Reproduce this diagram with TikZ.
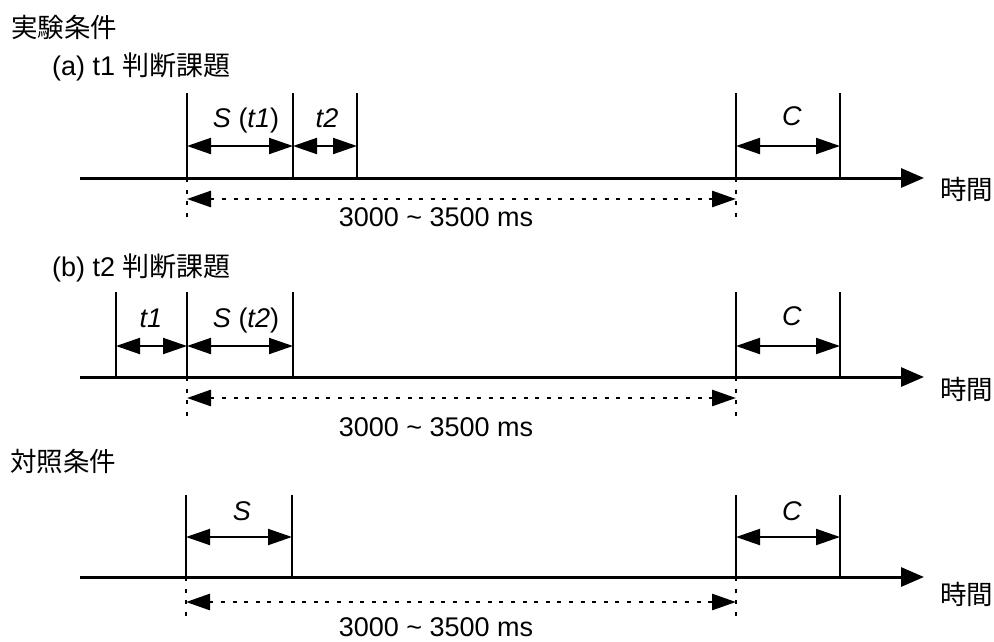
\documentclass[tikz,border=0pt]{standalone}
\usepackage{fontspec}
\setmainfont{Liberation Sans}
\newfontfamily\cjk{Noto Sans CJK JP}
\usetikzlibrary{arrows.meta}
\begin{document}
\begin{tikzpicture}[x=1pt,y=-1pt,
  axisline/.style={line width=3pt,-{Triangle[length=23pt,width=19pt]}},
  tickline/.style={line width=2.2pt},
  spanarrow/.style={line width=2pt,{Triangle[length=24pt,width=16pt]}-{Triangle[length=24pt,width=16pt]}},
  dotline/.style={line width=2.8pt,dash pattern=on 4pt off 7.6pt},
  dotspan/.style={dotline,{Triangle[length=24pt,width=16pt]}-{Triangle[length=24pt,width=16pt]}},
  txt/.style={inner sep=0pt,font=\fontsize{27}{30}\selectfont},
  cjktxt/.style={inner sep=0pt,font=\fontsize{26.5}{30}\selectfont\cjk},
]
\useasboundingbox (0,0) rectangle (994,641);

% ---------- titles ----------
\node[cjktxt,anchor=west] (title1) at (11,27) {実験条件};
\node[txt,anchor=west] (titleA) at (52,67) {(a) t1 {\cjk 判断課題}};
\node[txt,anchor=west] (titleB) at (52,268) {(b) t2 {\cjk 判断課題}};
\node[cjktxt,anchor=west] (title2) at (10,461) {対照条件};

% ---------- row (a) ----------
\coordinate (aL) at (80,178);
\coordinate (aR) at (924,178);
\foreach \n/\x in {1/187,2/293,3/357,4/736,5/840}{
  \coordinate (aT\n) at (\x,93);
  \coordinate (aB\n) at (\x,178);
  \coordinate (aM\n) at (\x,146);
}
\coordinate (aD1) at (187,199);
\coordinate (aD4) at (736,199);
\coordinate (aE1) at (187,217);
\coordinate (aE4) at (736,217);
\draw[axisline] (aL) -- (aR);
\foreach \n in {1,2,3,4,5}{\draw[tickline] (aT\n) -- (aB\n);}
\draw[spanarrow] (aM1) -- (aM2);
\draw[spanarrow] (aM2) -- (aM3);
\draw[spanarrow] (aM4) -- (aM5);
\draw[dotline] (aB1) -- (aE1);
\draw[dotline] (aB4) -- (aE4);
\draw[dotspan] (aD1) -- (aD4);
\node[txt,anchor=base] (aS) at (246,127) {\textit{S} (\textit{t1})};
\node[txt,anchor=base] (at2) at (327,127) {\textit{t2}};
\node[txt,anchor=base] (aC) at (792,125) {\textit{C}};
\node[txt,anchor=base] (aTime) at (436,226) {3000 \textasciitilde\ 3500 ms};
\node[cjktxt,anchor=west] (aJ) at (940,189) {時間};

% ---------- row (b) ----------
\coordinate (bL) at (80,377);
\coordinate (bR) at (924,377);
\foreach \n/\x in {0/116,1/187,2/293,4/736,5/840}{
  \coordinate (bT\n) at (\x,292);
  \coordinate (bB\n) at (\x,377);
  \coordinate (bM\n) at (\x,346);
}
\coordinate (bD1) at (187,398);
\coordinate (bD4) at (736,398);
\coordinate (bE1) at (187,417);
\coordinate (bE4) at (736,417);
\draw[axisline] (bL) -- (bR);
\foreach \n in {0,1,2,4,5}{\draw[tickline] (bT\n) -- (bB\n);}
\draw[spanarrow] (bM0) -- (bM1);
\draw[spanarrow] (bM1) -- (bM2);
\draw[spanarrow] (bM4) -- (bM5);
\draw[dotline] (bB1) -- (bE1);
\draw[dotline] (bB4) -- (bE4);
\draw[dotspan] (bD1) -- (bD4);
\node[txt,anchor=base] (bt1) at (151,327) {\textit{t1}};
\node[txt,anchor=base] (bS) at (246,327) {\textit{S} (\textit{t2})};
\node[txt,anchor=base] (bC) at (792,325) {\textit{C}};
\node[txt,anchor=base] (bTime) at (436,436) {3000 \textasciitilde\ 3500 ms};
\node[cjktxt,anchor=west] (bJ) at (940,389) {時間};

% ---------- row (c) ----------
\coordinate (cL) at (80,577);
\coordinate (cR) at (924,577);
\foreach \n/\x in {1/186,2/292,4/736,5/840}{
  \coordinate (cT\n) at (\x,495);
  \coordinate (cB\n) at (\x,577);
  \coordinate (cM\n) at (\x,537);
}
\coordinate (cD1) at (186,602);
\coordinate (cD4) at (736,602);
\coordinate (cE1) at (186,620);
\coordinate (cE4) at (736,620);
\draw[axisline] (cL) -- (cR);
\foreach \n in {1,2,4,5}{\draw[tickline] (cT\n) -- (cB\n);}
\draw[spanarrow] (cM1) -- (cM2);
\draw[spanarrow] (cM4) -- (cM5);
\draw[dotline] (cB1) -- (cE1);
\draw[dotline] (cB4) -- (cE4);
\draw[dotspan] (cD1) -- (cD4);
\node[txt,anchor=base] (cS) at (242,520) {\textit{S}};
\node[txt,anchor=base] (cC) at (792,520) {\textit{C}};
\node[txt,anchor=base] (cTime) at (436,636) {3000 \textasciitilde\ 3500 ms};
\node[cjktxt,anchor=west] (cJ) at (940,594) {時間};
\end{tikzpicture}
\end{document}
